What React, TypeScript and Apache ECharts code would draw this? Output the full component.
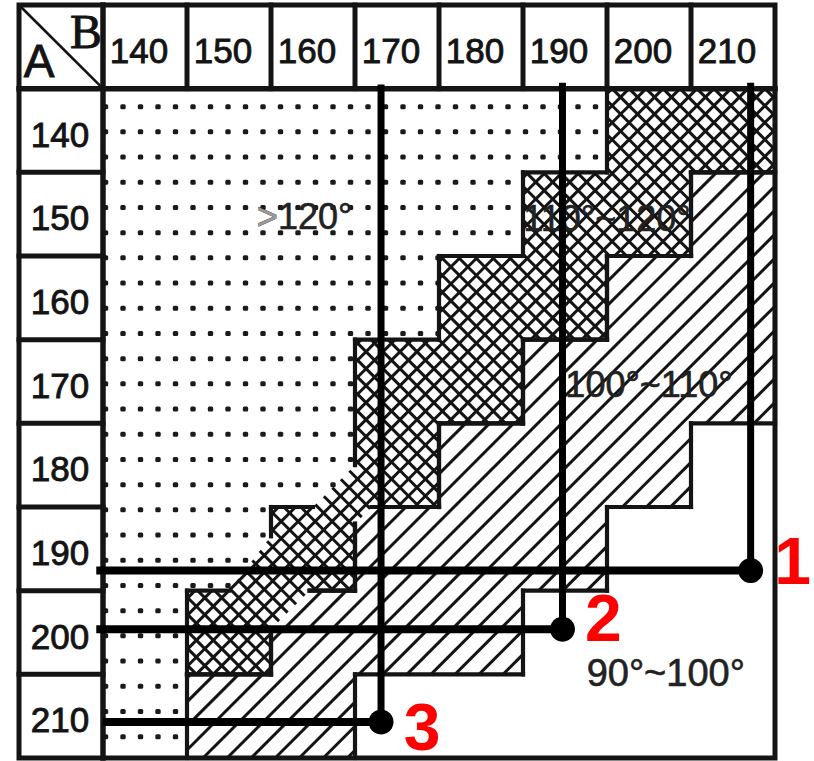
import React, { useEffect, useRef } from 'react';
import * as echarts from 'echarts';

// Header values: B along the top, A down the left side
const colB = [140, 150, 160, 170, 180, 190, 200, 210];
const rowA = [140, 150, 160, 170, 180, 190, 200, 210];
const cornerA = 'A';
const cornerB = 'B';

// Zone boundaries in (B, A) data units
const dotsRegion = [
  [135, 135], [195, 135], [195, 145], [185, 145], [185, 155], [175, 155], [175, 165], [165, 165],
  [165, 180], [160, 185], [155, 185], [155, 188.5], [150, 195], [145, 195], [145, 215], [135, 215],
];
const crossRegion = [
  [195, 135], [215, 135], [215, 145], [205, 145], [205, 155], [195, 155], [195, 165], [185, 165],
  [185, 175], [175, 175], [175, 185], [167, 185], [165, 187], [165, 195], [159.6, 195], [155, 199.6],
  [155, 205], [145, 205], [145, 195], [150, 195], [155, 188.5], [155, 185], [160, 185], [165, 180],
  [165, 165], [175, 165], [175, 155], [185, 155], [185, 145], [195, 145],
];
const hatchRegion = [
  [215, 145], [205, 145], [205, 155], [195, 155], [195, 165], [185, 165], [185, 175], [175, 175],
  [175, 185], [167, 185], [165, 187], [165, 195], [159.6, 195], [155, 199.6], [155, 205], [145, 205],
  [145, 215], [165, 215], [165, 205], [185, 205], [185, 195], [195, 195], [195, 185], [205, 185],
  [205, 175], [215, 175],
];

// Zone labels
const zoneLabels = ['{g|>}120°', '110°~120°', '100°~110°', '90°~100°'];
const zoneLabelB = [159, 195, 200, 202];
const zoneLabelA = [150.3, 150.5, 170.4, 204.9];

// Marked points 1..3
const markerNames = ['1', '2', '3'];
const markerB = [212.1, 189.7, 168.1];
const markerA = [192.6, 199.6, 210.7];
const markerTopA = [134.3, 134.3, 134.5];
const markerLeftB = [134.2, 134.2, 135];

// ---------- styles ----------
const INK = '#141414';
const LABEL_OFFSETS = [[42, -10], [41, -11], [41, 5]];
const HEAD_FONT = '35px "Liberation Sans", Arial, sans-serif';
const ZONE_FONT = '36px "Liberation Sans", Arial, sans-serif';

const half = (colB[1] - colB[0]) / 2;
const lo = colB[0] - half;
const hi = colB[colB.length - 1] + half;
const corner = lo - 2 * half;

type P = number[];

function inPoly(pt: P, poly: P[]) {
  let inside = false;
  for (let i = 0, j = poly.length - 1; i < poly.length; j = i++) {
    const [xi, yi] = poly[i];
    const [xj, yj] = poly[j];
    if ((yi > pt[1]) !== (yj > pt[1]) && pt[0] < ((xj - xi) * (pt[1] - yi)) / (yj - yi) + xi) inside = !inside;
  }
  return inside;
}

function hatchSegs(poly: P[], angleDeg: number, spacing: number, origin: P) {
  const a = (angleDeg * Math.PI) / 180;
  const d = [Math.cos(a), Math.sin(a)];
  const n = [-d[1], d[0]];
  const pts = poly.map((p) => {
    const x = p[0] - origin[0];
    const y = p[1] - origin[1];
    return [x * n[0] + y * n[1], x * d[0] + y * d[1]];
  });
  const us = pts.map((p) => p[0]);
  const umin = Math.min(...us);
  const umax = Math.max(...us);
  const segs: P[][] = [];
  for (let k = Math.ceil(umin / spacing); k * spacing <= umax; k++) {
    const u0 = k * spacing + 0.013;
    const vs: number[] = [];
    for (let i = 0; i < pts.length; i++) {
      const p1 = pts[i];
      const p2 = pts[(i + 1) % pts.length];
      if ((p1[0] <= u0 && u0 < p2[0]) || (p2[0] <= u0 && u0 < p1[0])) {
        vs.push(p1[1] + ((u0 - p1[0]) / (p2[0] - p1[0])) * (p2[1] - p1[1]));
      }
    }
    vs.sort((x, y) => x - y);
    for (let j = 0; j + 1 < vs.length; j += 2) {
      segs.push([
        [origin[0] + u0 * n[0] + vs[j] * d[0], origin[1] + u0 * n[1] + vs[j] * d[1]],
        [origin[0] + u0 * n[0] + vs[j + 1] * d[0], origin[1] + u0 * n[1] + vs[j + 1] * d[1]],
      ]);
    }
  }
  return segs;
}

const seg = (p: P, q: P, w: number, color = INK, cap = 'square') => ({
  type: 'line',
  shape: { x1: p[0], y1: p[1], x2: q[0], y2: q[1] },
  style: { stroke: color, lineWidth: w, lineCap: cap },
});

const txt = (s: string, x: number, y: number, font: string, fill = INK, extra: any = {}) => ({
  type: 'text',
  style: {
    text: s, x, y, font, fill,
    align: 'center', verticalAlign: 'middle',
    textAlign: 'center', textVerticalAlign: 'middle',
    ...extra,
  },
});

const regions = [dotsRegion, crossRegion, hatchRegion];

function renderRegion(params: any, api: any) {
  const idx = params.dataIndex;
  const poly = regions[idx].map((p) => api.coord(p));
  const origin = api.coord([lo, lo]);
  const children: any[] = [];
  if (idx === 0) {
    const xs = poly.map((p) => p[0]);
    const ys = poly.map((p) => p[1]);
    const maxX = Math.max(...xs);
    const maxY = Math.max(...ys);
    for (let y = origin[1] + 18; y < maxY - 2; y += 25.2) {
      for (let x = origin[0] + 2.5; x < maxX - 2; x += 17.5) {
        if (inPoly([x, y], poly)) {
          children.push({ type: 'rect', shape: { x: x - 2.7, y: y - 2.5, width: 5.4, height: 5, r: 1.5 }, style: { fill: '#1a1a1a' } });
        }
      }
    }
  } else if (idx === 1) {
    [45, -45].forEach((ang) => {
      hatchSegs(poly, ang, 12, origin).forEach((s) => children.push(seg(s[0], s[1], 3, INK, 'butt')));
    });
  } else {
    hatchSegs(poly, -45, 17, origin).forEach((s) => children.push(seg(s[0], s[1], 3, INK, 'butt')));
  }
  if (idx > 0) {
    for (let i = 0; i < poly.length; i++) {
      const p = poly[i];
      const q = poly[(i + 1) % poly.length];
      const axisAligned = Math.abs(p[0] - q[0]) < 0.5 || Math.abs(p[1] - q[1]) < 0.5;
      if (axisAligned) children.push(seg(p, q, 4.2));
    }
  }
  return { type: 'group', children };
}

const bold = { stroke: INK, lineWidth: 0.9 };

function renderTable(params: any, api: any) {
  const c = (b: number, a: number) => api.coord([b, a]);
  const [x0, y0] = c(corner, corner);
  const [x1, y1] = c(hi, hi);
  const [hx, hy] = c(lo, lo);
  const children: any[] = [];
  colB.slice(0, -1).forEach((b) => {
    const x = c(b + half, lo)[0];
    children.push(seg([x, y0], [x, hy], 5));
  });
  rowA.slice(0, -1).forEach((a) => {
    const y = c(lo, a + half)[1];
    children.push(seg([x0, y], [hx, y], 5));
  });
  children.push(seg([x0, hy], [x1, hy], 5.5));
  children.push(seg([hx, y0], [hx, y1], 5.5));
  children.push(seg([x0, y0], [hx, hy], 2.6, INK, 'butt'));
  children.push({
    type: 'rect',
    shape: { x: x0, y: y0, width: x1 - x0, height: y1 - y0 },
    style: { fill: 'none', stroke: INK, lineWidth: 5 },
  });
  colB.forEach((b) => {
    const [x, y] = c(b, corner + half);
    children.push(txt(String(b), x - 6, y + 3.5, HEAD_FONT, INK, bold));
  });
  rowA.forEach((a) => {
    const [x, y] = c(corner + half, a);
    children.push(txt(String(a), x - 1, y + 3.5, HEAD_FONT, INK, bold));
  });
  const [cx, cy] = c(corner + half, corner + half);
  children.push(txt(cornerB, cx + 25, cy - 15, '48px "Liberation Serif", serif', INK, bold));
  children.push(txt(cornerA, cx - 22, cy + 14, '46px "Liberation Sans", sans-serif', INK, bold));
  return { type: 'group', children };
}

function renderZoneLabel(params: any, api: any) {
  const i = params.dataIndex;
  const [x, y] = api.coord([zoneLabelB[i], zoneLabelA[i]]);
  const font = i === 3 ? '38px "Liberation Sans", Arial, sans-serif' : ZONE_FONT;
  return txt(zoneLabels[i], x, y, font, '#222', {
    stroke: '#222', lineWidth: 0.6,
    rich: { g: { fill: '#9a9a9a', font } },
  });
}

function renderMarker(params: any, api: any) {
  const i = params.dataIndex;
  const [px, py] = api.coord([markerB[i], markerA[i]]);
  const top = api.coord([markerB[i], markerTopA[i]])[1];
  const left = api.coord([markerLeftB[i], markerA[i]])[0];
  const off = LABEL_OFFSETS[i];
  return {
    type: 'group',
    children: [
      seg([px, top], [px, py], 7, '#000', 'butt'),
      seg([left, py], [px, py], 8, '#000', 'butt'),
      { type: 'circle', shape: { cx: px, cy: py, r: 12.5 }, style: { fill: '#000' } },
      txt(markerNames[i], px + off[0], py + off[1], 'bold 66px "Liberation Sans", Arial, sans-serif', '#ff0000'),
    ],
  };
}

export default function App() {
  const ref = useRef<HTMLDivElement>(null);
  useEffect(() => {
    if (!ref.current) return;
    const chart = echarts.init(ref.current, undefined, { renderer: 'svg' });
    chart.setOption({
      animation: false,
      backgroundColor: '#ffffff',
      grid: { left: 19, top: 5, width: 756, height: 753 },
      xAxis: { type: 'value', min: corner, max: hi, show: false },
      yAxis: { type: 'value', min: corner, max: hi, inverse: true, show: false },
      series: [
        {
          type: 'custom', coordinateSystem: 'cartesian2d', clip: false, silent: true,
          renderItem: renderRegion,
          data: regions.map((_, i) => [170, 175, i]),
        },
        {
          type: 'custom', coordinateSystem: 'cartesian2d', clip: false, silent: true,
          renderItem: renderTable,
          data: [[170, 175]],
        },
        {
          type: 'custom', coordinateSystem: 'cartesian2d', clip: false, silent: true,
          renderItem: renderZoneLabel,
          data: zoneLabels.map((_, i) => [zoneLabelB[i], zoneLabelA[i]]),
        },
        {
          type: 'custom', coordinateSystem: 'cartesian2d', clip: false, silent: true,
          renderItem: renderMarker,
          data: markerNames.map((_, i) => [markerB[i], markerA[i]]),
        },
      ],
    });
    return () => chart.dispose();
  }, []);
  return (
    <div
      ref={ref}
      style={{ position: 'fixed', left: 0, top: 0, width: 814, height: 761, background: '#fff' }}
    />
  );
}
